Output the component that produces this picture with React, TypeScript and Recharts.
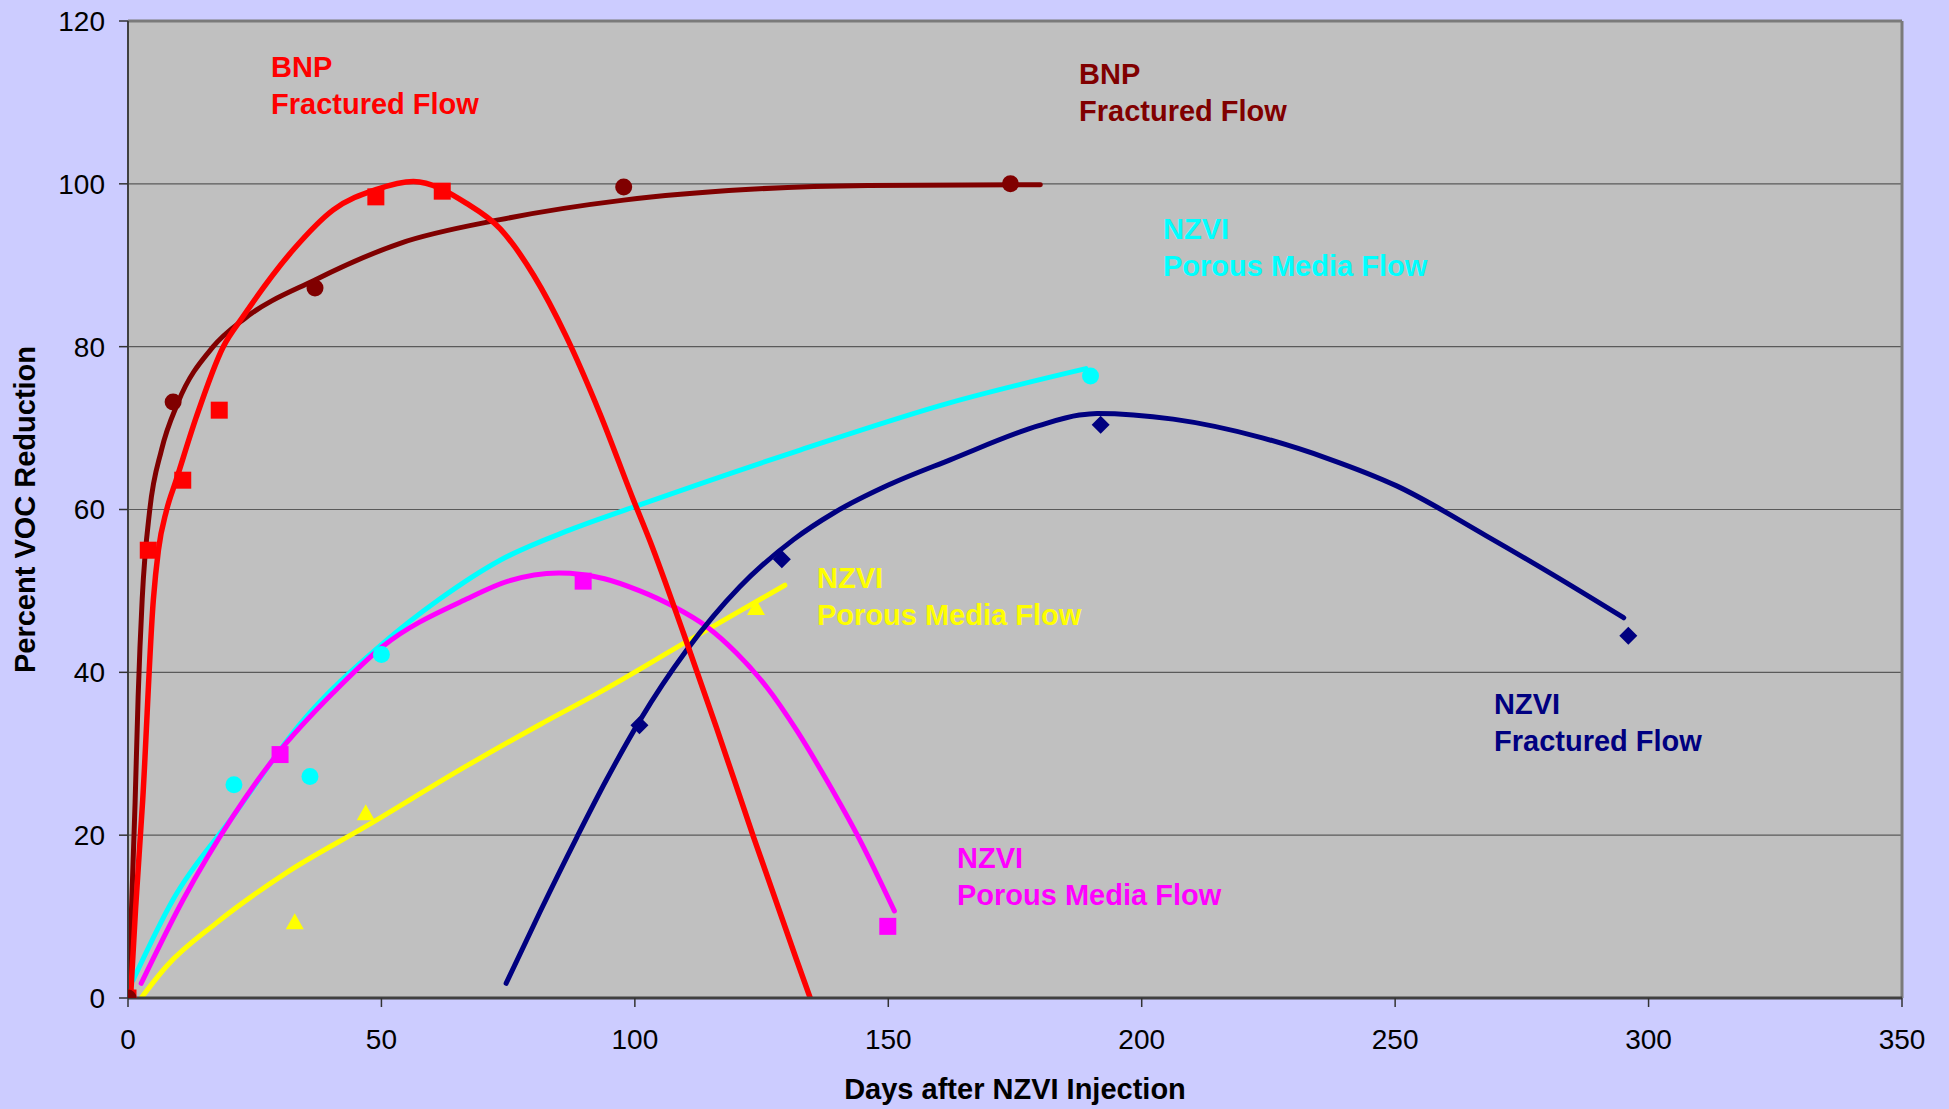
import { ComposedChart, Line, Scatter, XAxis, YAxis, CartesianGrid, ReferenceLine, Customized } from 'recharts';

const FONT = '"Liberation Sans", Arial, sans-serif';

const xTicks = [0, 50, 100, 150, 200, 250, 300, 350];
const yTicks = [0, 20, 40, 60, 80, 100, 120];

// measured points (days, % reduction)
const bnpRedDays = [0, 4, 10.8, 18, 48.9, 62];
const bnpRedVals = [0, 55, 63.6, 72.2, 98.4, 99.1];
const bnpDarkDays = [0, 8.9, 36.9, 97.8, 174.1];
const bnpDarkVals = [0, 73.2, 87.2, 99.6, 100];
const nzviCyanDays = [20.9, 35.9, 50, 189.9];
const nzviCyanVals = [26.2, 27.2, 42.2, 76.4];
const nzviPinkDays = [30, 89.8, 149.9];
const nzviPinkVals = [29.9, 51.2, 8.8];
const nzviYellowDays = [32.9, 46.9, 123.9];
const nzviYellowVals = [9.3, 22.7, 47.9];
const nzviNavyDays = [100.9, 129, 191.9, 296];
const nzviNavyVals = [33.5, 53.9, 70.4, 44.5];

// trendlines
const redTrendDays = [0.5, 1.5, 2.9, 5, 6, 7.6, 9.5, 13.5, 18.8, 22.7, 32.6, 40.5, 48.9, 56.3, 66.8, 73.4, 80, 86.5, 93.1, 99.7, 103, 109.6, 116, 123.4, 131.9, 134.6];
const redTrendVals = [0, 11, 24.3, 48.9, 55, 59.9, 63.6, 71.4, 80, 83.7, 91.9, 96.8, 99.3, 100.3, 97.6, 94.5, 88.8, 81.2, 71.8, 61.2, 56.1, 44.8, 33.4, 19.8, 4.7, 0];
const darkTrendDays = [0.1, 1.4, 2, 2.8, 4.3, 6.6, 9.9, 16.8, 23.1, 36.9, 53.7, 73.4, 97.8, 121.9, 146, 180];
const darkTrendVals = [0, 24, 37, 49, 60, 67.3, 73.2, 80, 83.5, 88.2, 92.7, 95.6, 98, 99.3, 99.8, 99.9];
const cyanTrendDays = [1, 8.9, 20.7, 33.9, 50, 61.5, 73.5, 87.2, 101.1, 132.6, 162.1, 189];
const cyanTrendVals = [2.2, 12.1, 22.3, 33.6, 43.4, 49, 53.8, 57.5, 60.6, 67.3, 73.1, 77.3];
const pinkTrendDays = [2.6, 10.9, 20.7, 29.9, 40.5, 50.3, 66.8, 75, 85, 94, 101, 107.6, 114.2, 120, 126, 132, 137.8, 144.4, 151.2];
const pinkTrendVals = [1.8, 12.1, 22.3, 30.3, 37.5, 43.2, 49, 51.2, 52.2, 51.5, 50, 48.1, 45.6, 42.4, 38.2, 32.8, 26.8, 19.4, 10.7];
const yellowTrendDays = [2.6, 7.6, 17.4, 31.3, 47, 66.8, 81.3, 93.2, 110.3, 129.6];
const yellowTrendVals = [0, 3.9, 9.2, 15.4, 21.1, 28.5, 33.6, 37.6, 43.8, 50.7];
const navyTrendDays = [74.6, 81.3, 88.6, 94.4, 101, 110.2, 120.7, 131.3, 139.3, 150, 162.2, 179.7, 187.7, 191.2, 206.2, 223.8, 237, 250.3, 267.9, 281.1, 295.1];
const navyTrendVals = [1.8, 10.6, 19.8, 26.8, 34.1, 42.7, 50.5, 56.3, 59.6, 63, 66.1, 70.3, 71.6, 71.8, 71.1, 68.8, 66.2, 62.9, 56.8, 52, 46.7];

const rows = (xs: number[], ys: number[]) => xs.map((x, i) => ({ x, y: ys[i] }));

const RED = '#FF0000';
const DARK = '#800000';
const CYAN = '#00FFFF';
const PINK = '#FF00FF';
const YELLOW = '#FFFF00';
const NAVY = '#000080';

const square = (color: string) => (p: any) => <rect x={p.cx - 8.5} y={p.cy - 8.5} width={17} height={17} fill={color} />;
const circle = (color: string) => (p: any) => <circle cx={p.cx} cy={p.cy} r={8.5} fill={color} />;
const diamond = (color: string) => (p: any) => (
  <path d={`M${p.cx},${p.cy - 9}L${p.cx + 9},${p.cy}L${p.cx},${p.cy + 9}L${p.cx - 9},${p.cy}Z`} fill={color} />
);
const triangle = (color: string) => (p: any) => (
  <path d={`M${p.cx},${p.cy - 9}L${p.cx + 9},${p.cy + 7}L${p.cx - 9},${p.cy + 7}Z`} fill={color} />
);

const notes = [
  { color: RED, x: 271, y: 77, lines: ['BNP', 'Fractured Flow'] },
  { color: DARK, x: 1079, y: 84, lines: ['BNP', 'Fractured Flow'] },
  { color: CYAN, x: 1163, y: 239, lines: ['NZVI', 'Porous Media Flow'] },
  { color: YELLOW, x: 817, y: 588, lines: ['NZVI', 'Porous Media Flow'] },
  { color: NAVY, x: 1494, y: 714, lines: ['NZVI', 'Fractured Flow'] },
  { color: PINK, x: 957, y: 868, lines: ['NZVI', 'Porous Media Flow'] },
];

function Notes() {
  return (
    <g>
      {notes.map((n, i) => (
        <text key={i} x={n.x} y={n.y} fill={n.color} fontSize={29} fontWeight="bold" fontFamily={FONT}>
          {n.lines.map((l, j) => (
            <tspan key={j} x={n.x} dy={j === 0 ? 0 : 37}>
              {l}
            </tspan>
          ))}
        </text>
      ))}
    </g>
  );
}

export default function App() {
  const tick = { fill: '#000', fontSize: 28, fontFamily: FONT };
  return (
    <div style={{ position: 'absolute', left: 0, top: 0, width: 1949, height: 1109, background: '#CCCCFF', fontFamily: FONT }}>
      <ComposedChart width={1949} height={1109} margin={{ top: 21, right: 47, left: 0, bottom: 0 }}>
        <CartesianGrid vertical={false} stroke="#5a5a5a" strokeWidth={1.2} fill="#C0C0C0" fillOpacity={1} />
        <XAxis
          type="number"
          dataKey="x"
          domain={[0, 350]}
          ticks={xTicks}
          allowDataOverflow
          height={111}
          tick={tick}
          tickSize={9}
          tickMargin={22}
          axisLine={{ stroke: '#404040', strokeWidth: 3 }}
          tickLine={{ stroke: '#333', strokeWidth: 1.5 }}
          label={{ value: 'Days after NZVI Injection', position: 'insideBottom', offset: 10, fill: '#000', fontSize: 29, fontWeight: 'bold', fontFamily: FONT }}
        />
        <YAxis
          type="number"
          dataKey="y"
          domain={[0, 120]}
          ticks={yTicks}
          allowDataOverflow
          width={128}
          tick={tick}
          tickSize={9}
          tickMargin={14}
          axisLine={{ stroke: '#404040', strokeWidth: 2 }}
          tickLine={{ stroke: '#333', strokeWidth: 1.5 }}
          label={{ value: 'Percent VOC Reduction', angle: -90, position: 'insideLeft', offset: 25, fill: '#000', fontSize: 29, fontWeight: 'bold', fontFamily: FONT, style: { textAnchor: 'middle' } }}
        />
        <ReferenceLine y={120} stroke="#7a7a7a" strokeWidth={3} />
        <ReferenceLine x={350} stroke="#7a7a7a" strokeWidth={3} />

        <Scatter data={rows(bnpRedDays, bnpRedVals)} shape={square(RED)} isAnimationActive={false} />
        <Scatter data={rows(bnpDarkDays, bnpDarkVals)} shape={circle(DARK)} isAnimationActive={false} />
        <Scatter data={rows(nzviCyanDays, nzviCyanVals)} shape={circle(CYAN)} isAnimationActive={false} />
        <Scatter data={rows(nzviPinkDays, nzviPinkVals)} shape={square(PINK)} isAnimationActive={false} />
        <Scatter data={rows(nzviYellowDays, nzviYellowVals)} shape={triangle(YELLOW)} isAnimationActive={false} />
        <Scatter data={rows(nzviNavyDays, nzviNavyVals)} shape={diamond(NAVY)} isAnimationActive={false} />

        <Line data={rows(yellowTrendDays, yellowTrendVals)} dataKey="y" type="monotone" stroke={YELLOW} strokeWidth={5} strokeLinecap="round" dot={false} isAnimationActive={false} />
        <Line data={rows(cyanTrendDays, cyanTrendVals)} dataKey="y" type="monotone" stroke={CYAN} strokeWidth={5} strokeLinecap="round" dot={false} isAnimationActive={false} />
        <Line data={rows(pinkTrendDays, pinkTrendVals)} dataKey="y" type="monotone" stroke={PINK} strokeWidth={5} strokeLinecap="round" dot={false} isAnimationActive={false} />
        <Line data={rows(navyTrendDays, navyTrendVals)} dataKey="y" type="monotone" stroke={NAVY} strokeWidth={5} strokeLinecap="round" dot={false} isAnimationActive={false} />
        <Line data={rows(darkTrendDays, darkTrendVals)} dataKey="y" type="monotone" stroke={DARK} strokeWidth={5} strokeLinecap="round" dot={false} isAnimationActive={false} />
        <Line data={rows(redTrendDays, redTrendVals)} dataKey="y" type="monotone" stroke={RED} strokeWidth={5.5} strokeLinecap="round" dot={false} isAnimationActive={false} />

        <Customized component={<Notes />} />
      </ComposedChart>
    </div>
  );
}
